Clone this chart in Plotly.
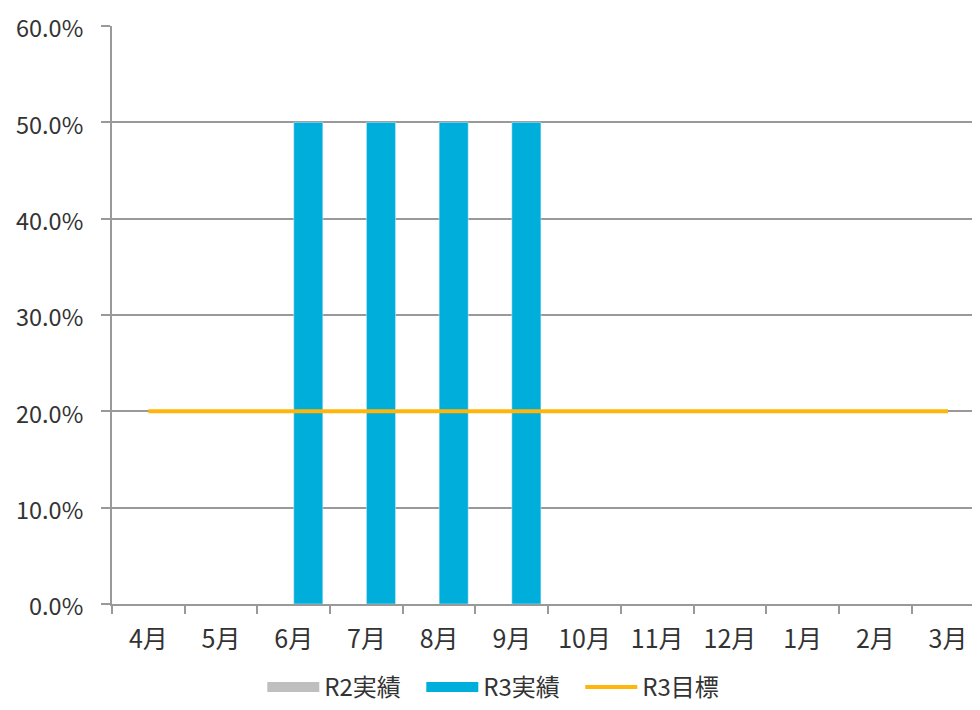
import plotly.graph_objects as go

months = ["4月", "5月", "6月", "7月", "8月", "9月", "10月", "11月", "12月", "1月", "2月", "3月"]
r2_actual = [None] * 12
r3_actual = [None, None, 0.5, 0.5, 0.5, 0.5, None, None, None, None, None, None]
r3_target = [0.2] * 12
y_ticks = [0, 0.1, 0.2, 0.3, 0.4, 0.5, 0.6]

font = "Noto Sans CJK JP"
c_r2 = "#BFBFBF"
c_r3 = "#00AEDB"
c_tg = "#FFB60A"

fig = go.Figure()
fig.add_trace(go.Bar(x=months, y=r2_actual, name="R2実績", marker_color=c_r2,
                     showlegend=False, legendgroup="r2"))
fig.add_trace(go.Bar(x=months, y=r3_actual, name="R3実績", marker_color=c_r3,
                     showlegend=False, legendgroup="r3"))
fig.add_trace(go.Scatter(x=months, y=r3_target, name="R3目標", mode="lines",
                         line=dict(color=c_tg, width=4), showlegend=False, legendgroup="tg"))
# legend entries
fig.add_trace(go.Scatter(x=[None], y=[None], name="R2実績", mode="lines",
                         line=dict(color=c_r2, width=16), legendgroup="r2"))
fig.add_trace(go.Scatter(x=[None], y=[None], name="R3実績", mode="lines",
                         line=dict(color=c_r3, width=16), legendgroup="r3"))
fig.add_trace(go.Scatter(x=[None], y=[None], name="R3目標", mode="lines",
                         line=dict(color=c_tg, width=4), legendgroup="tg"))

fig.update_layout(
    width=972, height=702,
    margin=dict(l=104, r=0, t=18, b=106, autoexpand=False),
    paper_bgcolor="white", plot_bgcolor="white",
    barmode="group", bargap=0.2, bargroupgap=0,
    font=dict(family=font, size=24, color="#333333"),
    showlegend=True,
    legend=dict(orientation="h", xref="container", x=0.507, xanchor="center",
                yref="container", y=0.0, yanchor="bottom",
                font=dict(size=24, color="#333333"), traceorder="normal",
                itemwidth=52, tracegroupgap=0, entrywidth=92),
)
fig.update_xaxes(
    type="category", range=[-0.5, 11.44],
    showline=True, linecolor="#999999", linewidth=2,
    ticks="outside", tickson="boundaries", ticklen=8, tickwidth=2, tickcolor="#999999",
    showgrid=False, tickfont=dict(size=25, color="#333333"), ticklabelstandoff=12,
)
fig.update_yaxes(
    range=[0, 0.6], tickvals=y_ticks, tickformat=".1%",
    showline=True, linecolor="#999999", linewidth=2,
    showgrid=True, gridcolor="#999999", gridwidth=2,
    ticks="outside", ticklen=9, tickwidth=2, tickcolor="#999999",
    tickfont=dict(size=23.5, color="#333333"), ticklabelstandoff=13, ticklabelshift=3,
    ticklabeloverflow="allow", zeroline=False,
)

fig.write_html("out.html")
